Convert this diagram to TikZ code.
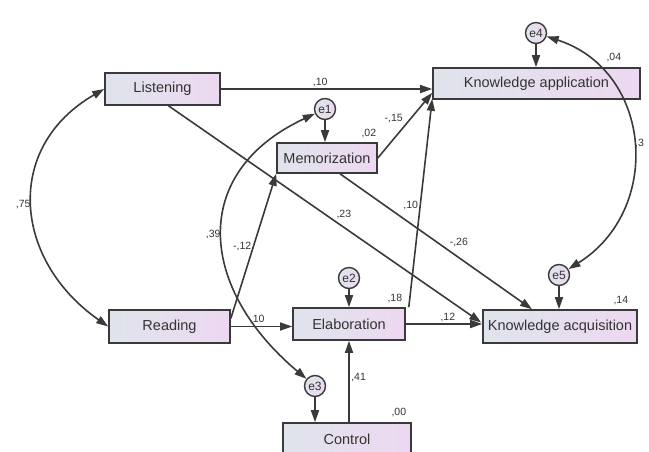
\documentclass[tikz,border=0pt]{standalone}
\usepackage{fontspec}
\setmainfont{Liberation Sans}
\usetikzlibrary{positioning, arrows.meta, calc}
\definecolor{boxleft}{HTML}{DFE4EC}
\definecolor{boxright}{HTML}{EDD8F1}
\definecolor{edge}{HTML}{3A3A3A}
\definecolor{ink}{HTML}{333333}
\tikzset{
  var/.style={draw=edge, line width=1.6pt, left color=boxleft, right color=boxright,
    text=ink, font=\fontsize{14.5}{16}\selectfont},
  err/.style={circle, draw=edge, line width=1.4pt, left color=boxleft, right color=boxright,
    minimum size=21pt, inner sep=0pt, text=ink, font=\fontsize{12}{13}\selectfont},
  wire/.style={-{Triangle[length=12pt,width=8pt]}, line width=1.6pt, draw=edge},
  cov/.style={{Triangle[length=12pt,width=8pt]}-{Triangle[length=12pt,width=8pt]},
    line width=1.6pt, draw=edge},
  coef/.style={text=ink, font=\fontsize{10.5}{12}\selectfont, inner sep=1.5pt}
}

\begin{document}
\begin{tikzpicture}[x=1pt, y=1pt]
    \path[use as bounding box, clip] (0,0) rectangle (649,-451);
    \node[var, minimum width=115pt, minimum height=32pt] (lis)  at (162.5,-89)  {Listening};
    \node[var, minimum width=207pt, minimum height=31pt] (kapp) at (536.5,-83.5) {Knowledge application};
    \node[var, minimum width=100pt, minimum height=30pt] (mem)  at (327,-158)   {Memorization};
    \node[var, minimum width=121pt, minimum height=33pt] (rea)  at (169.5,-326.5) {Reading};
    \node[var, minimum width=112pt, minimum height=32pt] (ela)  at (349,-324)   {Elaboration};
    \node[var, minimum width=154pt, minimum height=33pt] (kacq) at (560,-326.5) {Knowledge acquisition};
    \node[var, minimum width=128pt, minimum height=32pt] (ctl)  at (347,-439)   {Control};
    \node[err] (e1) at (325,-109) {e1};
    \node[err] (e2) at (349,-278) {e2};
    \node[err] (e3) at (315,-386) {e3};
    \node[err] (e4) at (536,-33)  {e4};
    \node[err] (e5) at (559,-275) {e5};
    \node[coef, above left=3pt and 0pt of mem.north east]  {,02};
    \node[coef, above left=3pt and 2pt of ela.north east]  {,18};
    \node[coef, above left=3pt and 8pt of kacq.north east] {,14};
    \node[coef, above left=4pt and 18pt of kapp.north east] {,04};
    \node[coef, above left=4pt and 4pt of ctl.north east]  {,00};
    \draw[wire] (e1) -- (e1 |- mem.north);
    \draw[wire] (e2) -- (e2 |- ela.north);
    \draw[wire] (e3) -- (e3 |- ctl.north);
    \draw[wire] (e4) -- (e4 |- kapp.north);
    \draw[wire] (e5) -- (e5 |- kacq.north);
    \draw[wire] (lis.east) -- node[coef, above, pos=0.47] {,10} (lis.east -| kapp.west);
    \draw[wire] ([xshift=6pt]lis.south) -- node[coef, above right, pos=0.53] {,23} ([xshift=-1pt, yshift=4pt]kacq.west);
    \draw[wire] ([xshift=13pt]mem.south) -- node[coef, above right, pos=0.56] {-,26} ([xshift=-28pt]kacq.north);
    \draw[wire] (mem.east) -- node[coef, above left, pos=0.5] {-,15} ([yshift=7pt]kapp.south west);
    \draw[wire] ([xshift=3pt]ela.north east) -- node[coef, left, pos=0.49] {,10} ([yshift=1pt]kapp.south west);
    \draw[wire] (rea.east) -- node[coef, above, pos=0.43] {,10} (rea.east -| ela.west);
    \draw[wire] ([yshift=8pt]rea.east) -- node[coef, left, pos=0.5] {-,12} (mem.south west);
    \draw[wire] (ela.east) -- node[coef, above, pos=0.55] {,12} (ela.east -| kacq.west);
    \draw[wire] (ela.south |- ctl.north) -- node[coef, right, pos=0.55] {,41} (ela.south);
    \draw[cov] (lis.west) to[out=210, in=145, looseness=1.25] node[coef, left] {,75} (rea.west);
    \draw[cov] (e1) to[out=205, in=140, looseness=1.35] node[coef, left] {,39} (e3);
    \draw[cov] (e4) to[out=-18, in=32, looseness=1.22] node[coef, right, pos=0.5, inner sep=1.5pt] {,3} (e5);
\end{tikzpicture}
\end{document}
